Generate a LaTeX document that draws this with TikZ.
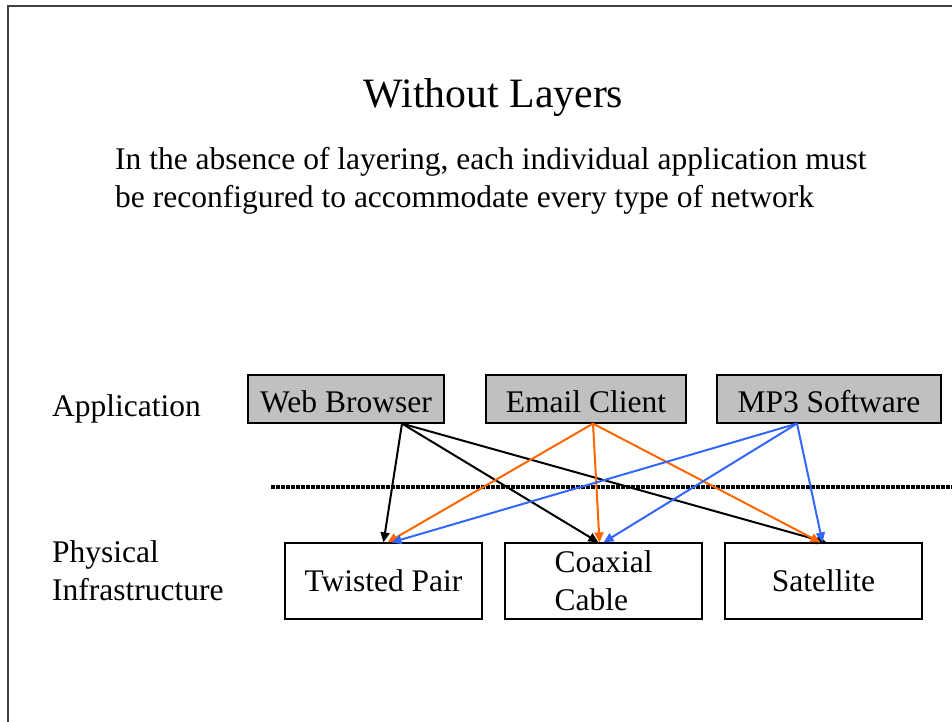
\documentclass[tikz,border=0pt]{standalone}
\usepackage{fontspec}
\setmainfont{Liberation Serif}
\usetikzlibrary{arrows.meta}
\definecolor{boxgray}{HTML}{C0C0C0}
\definecolor{arrorange}{HTML}{FF6600}
\definecolor{arrblue}{HTML}{3366FF}
\definecolor{framegray}{HTML}{404040}
\tikzset{
  txt/.style={inner sep=0pt, anchor=base west, font=\fontsize{31.5}{38}\selectfont},
  appbox/.style={draw=black, line width=1.2pt, fill=boxgray, minimum height=48pt, inner sep=0pt,
    text height=26pt, text depth=0pt, font=\fontsize{31.5}{38}\selectfont},
  physbox/.style={draw=black, line width=1.2pt, fill=white, minimum height=76pt, inner sep=0pt,
    align=center, font=\fontsize{31.5}{38}\selectfont},
  link/.style={line width=2pt, -{Triangle[length=10pt,width=9pt]}},
  blk/.style={link, draw=black},
  org/.style={link, draw=arrorange},
  blu/.style={link, draw=arrblue},
  dotline/.style={line width=3.5pt, dash pattern=on 3.5pt off 1.5pt},
  frameline/.style={draw=framegray, line width=1.5pt}
}
\begin{document}
\begin{tikzpicture}[x=1pt,y=-1pt]
\useasboundingbox (0,0) rectangle (952,721);
% frame
\coordinate (f1) at (8,740);
\coordinate (f2) at (8,6);
\coordinate (f3) at (970,6);
\draw[frameline] (f1) -- (f2) -- (f3);
% title and text
\node[inner sep=0pt, anchor=base, font=\fontsize{41.8}{50}\selectfont] (title) at (493.5,107) {Without Layers};
\node[txt] (l1) at (115,169) {In the absence of layering, each individual application must};
\node[txt] (l2) at (115,207) {be reconfigured to accommodate every type of network};
\node[txt] (app) at (52,416) {Application};
\node[txt] (phys1) at (52,562) {Physical};
\node[txt] (phys2) at (52,600) {Infrastructure};
% dotted separator
\coordinate (d1) at (271,487);
\coordinate (d2) at (960,487);
\draw[dotline] (d1) -- (d2);
% application boxes
\node[appbox, minimum width=196pt] (wb) at (346,399) {Web Browser};
\node[appbox, minimum width=200pt] (ec) at (586,399) {Email Client};
\node[appbox, minimum width=224pt] (mp3) at (829,399) {MP3 Software};
% physical boxes
\node[physbox, minimum width=197pt] (tp) at (383.5,581) {Twisted Pair};
\node[physbox, minimum width=197pt, align=left] (cx) at (603.5,581) {Coaxial\\Cable};
\node[physbox, minimum width=197pt] (sat) at (823.5,581) {Satellite};
% connectors
\draw[blk] ([xshift=56pt]wb.south) -- ([xshift=0pt]tp.north);
\draw[blk] ([xshift=56pt]wb.south) -- ([xshift=-5pt]cx.north);
\draw[blk] ([xshift=56pt]wb.south) -- ([xshift=3pt]sat.north);
\draw[org] ([xshift=7pt]ec.south) -- ([xshift=4pt]tp.north);
\draw[org] ([xshift=7pt]ec.south) -- ([xshift=-4pt]cx.north);
\draw[org] ([xshift=7pt]ec.south) -- ([xshift=-3pt]sat.north);
\draw[blu] ([xshift=-32pt]mp3.south) -- ([xshift=8pt]tp.north);
\draw[blu] ([xshift=-32pt]mp3.south) -- ([xshift=0pt]cx.north);
\draw[blu] ([xshift=-32pt]mp3.south) -- ([xshift=-1pt]sat.north);
\end{tikzpicture}
\end{document}
